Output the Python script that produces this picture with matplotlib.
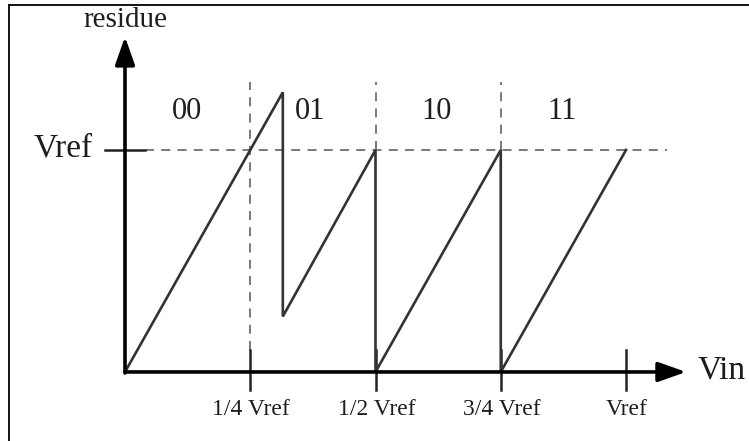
import matplotlib.pyplot as plt
from matplotlib.lines import Line2D

# Residue transfer curve of a 2-bit stage, x and y in units of Vref
vin = [0, 0.315, 0.315, 0.5, 0.5, 0.75, 0.75, 1.0]
residue = [0, 1.26, 0.25, 1.0, 0, 1.0, 0, 1.0]

tick_pos = [0.25, 0.5, 0.75, 1.0]
tick_labels = ['1/4 Vref', '1/2 Vref', '3/4 Vref', 'Vref']

code_pos = [0.124, 0.369, 0.622, 0.872]
code_labels = ['00', '01', '10', '11']

plt.rcParams['font.family'] = ['Liberation Serif', 'DejaVu Serif']

fig = plt.figure(figsize=(7.49, 4.41), dpi=100)
ax = fig.add_axes([0, 0, 1, 1])
ax.set_xlim(-0.2495, 1.2455)
ax.set_ylim(-0.311, 1.6757)
ax.axis('off')

# thin frame along top and left edge
fig.add_artist(Line2D([9 / 749, 9 / 749], [0, 1 - 5 / 441], color='black', lw=1.3))
fig.add_artist(Line2D([9 / 749, 1], [1 - 5 / 441, 1 - 5 / 441], color='black', lw=1.3))

# dashed guides
dash_kw = dict(color='#6e6e6e', lw=1.3, ls=(0, (5, 4)))
ax.plot([0.04, 1.082], [1.0, 1.0], **dash_kw)
ax.plot([0.25, 0.25], [0.1, 1.306], **dash_kw)
ax.plot([0.5, 0.5], [1.0, 1.306], **dash_kw)
ax.plot([0.75, 0.75], [1.0, 1.306], **dash_kw)

# axes with arrows
ax.annotate('', xy=(0, 1.51), xytext=(0, -0.005),
            arrowprops=dict(arrowstyle='-|>,head_length=1.7,head_width=0.6',
                            color='black', lw=2.6, shrinkA=0, shrinkB=0))
ax.annotate('', xy=(1.12, 0), xytext=(0, 0),
            arrowprops=dict(arrowstyle='-|>,head_length=1.7,head_width=0.6',
                            color='black', lw=2.6, shrinkA=0, shrinkB=0))

# ticks
for x in tick_pos:
    ax.plot([x, x], [-0.081, 0.099], color='#222222', lw=1.8)
ax.plot([-0.04, 0.04], [1.0, 1.0], color='#222222', lw=1.8)

# residue curve
ax.plot(vin, residue, color='#333333', lw=1.9, solid_joinstyle='miter')

# labels
txt = '#1e1e1e'
ax.text(0, 1.585, 'residue', ha='center', va='center', fontsize=21, color=txt)
ax.text(-0.124, 1.01, 'Vref', ha='center', va='center', fontsize=24, color=txt)
ax.text(1.19, 0.008, 'Vin', ha='center', va='center', fontsize=24, color=txt)
for x, lab in zip(code_pos, code_labels):
    ax.text(x, 1.175, lab, ha='center', va='center', fontsize=22, color=txt)
for x, lab in zip(tick_pos, tick_labels):
    ax.text(x + 0.002, -0.17, lab, ha='center', va='center', fontsize=17, color=txt)

fig.savefig('out.png', dpi=100)
